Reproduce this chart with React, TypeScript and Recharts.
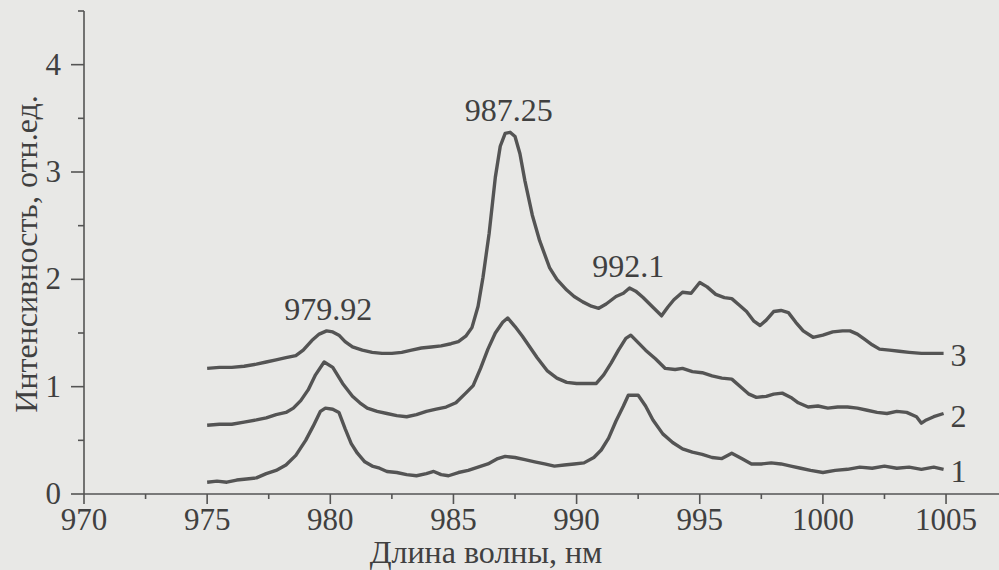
import React from 'react';
import { LineChart, Line, XAxis, YAxis, ReferenceDot } from 'recharts';

// Spectrum 1 (bottom)
const wl1 = [
  975.0, 975.4, 975.8, 976.2, 976.6, 977.0, 977.4, 977.8, 978.2, 978.6, 979.0, 979.3, 979.6, 979.8,
  980.1, 980.35, 980.6, 980.85, 981.1, 981.4, 981.7, 982.0, 982.3, 982.7, 983.1, 983.5, 983.9, 984.2,
  984.5, 984.8, 985.2, 985.6, 986.0, 986.4, 986.8, 987.1, 987.5, 987.9, 988.3, 988.7, 989.1, 989.5,
  989.9, 990.3, 990.7, 991.0, 991.3, 991.6, 991.9, 992.1, 992.5, 992.8, 993.1, 993.5, 993.9, 994.3,
  994.7, 995.1, 995.5, 995.9, 996.3, 996.7, 997.1, 997.5, 997.9, 998.3, 998.7, 999.1, 999.5, 1000.0,
  1000.5, 1001.0, 1001.5, 1002.0, 1002.5, 1003.0, 1003.5, 1004.0, 1004.5, 1004.9,
];
const int1 = [
  0.11, 0.12, 0.11, 0.13, 0.14, 0.15, 0.19, 0.22, 0.27, 0.36, 0.5, 0.63, 0.77, 0.8,
  0.79, 0.76, 0.61, 0.47, 0.38, 0.3, 0.26, 0.24, 0.21, 0.2, 0.18, 0.17, 0.19, 0.21,
  0.18, 0.17, 0.2, 0.22, 0.25, 0.28, 0.33, 0.35, 0.34, 0.32, 0.3, 0.28, 0.26, 0.27,
  0.28, 0.29, 0.34, 0.41, 0.52, 0.68, 0.82, 0.92, 0.92, 0.82, 0.69, 0.56, 0.48, 0.42,
  0.39, 0.37, 0.34, 0.33, 0.38, 0.33, 0.28, 0.28, 0.29, 0.28, 0.26, 0.24, 0.22, 0.2,
  0.22, 0.23, 0.25, 0.24, 0.26, 0.24, 0.25, 0.23, 0.25, 0.23,
];

// Spectrum 2 (middle)
const wl2 = [
  975.0, 975.5, 976.0, 976.5, 977.0, 977.4, 977.8, 978.2, 978.5, 978.8, 979.1, 979.4, 979.75, 980.1,
  980.5, 980.9, 981.2, 981.5, 981.9, 982.3, 982.7, 983.1, 983.5, 983.9, 984.3, 984.7, 985.1, 985.5,
  985.8, 986.1, 986.4, 986.7, 987.0, 987.2, 987.5, 987.8, 988.1, 988.4, 988.8, 989.2, 989.6, 990.0,
  990.4, 990.8, 991.1, 991.4, 991.7, 992.0, 992.2, 992.5, 992.8, 993.2, 993.6, 994.0, 994.3, 994.7,
  995.1, 995.5, 995.9, 996.3, 996.7, 997.0, 997.3, 997.7, 998.0, 998.35, 998.7, 999.0, 999.4, 999.8,
  1000.2, 1000.6, 1001.0, 1001.4, 1001.8, 1002.2, 1002.6, 1003.0, 1003.4, 1003.8, 1004.0, 1004.2,
  1004.5, 1004.9,
];
const int2 = [
  0.64, 0.65, 0.65, 0.67, 0.69, 0.71, 0.74, 0.76, 0.8, 0.87, 0.97, 1.11, 1.23, 1.18,
  1.03, 0.91, 0.85, 0.8, 0.77, 0.75, 0.73, 0.72, 0.74, 0.77, 0.79, 0.81, 0.85, 0.94,
  1.01, 1.17, 1.35, 1.5, 1.6, 1.64, 1.56, 1.47, 1.37, 1.27, 1.15, 1.08, 1.04, 1.03,
  1.03, 1.03, 1.11, 1.22, 1.34, 1.45, 1.48, 1.41, 1.34, 1.26, 1.17, 1.16, 1.17, 1.14,
  1.13, 1.1, 1.08, 1.07, 0.99, 0.93, 0.9, 0.91, 0.93, 0.94, 0.9, 0.85, 0.81, 0.82,
  0.8, 0.81, 0.81, 0.8, 0.78, 0.76, 0.75, 0.77, 0.76, 0.72, 0.66, 0.69,
  0.72, 0.75,
];

// Spectrum 3 (top)
const wl3 = [
  975.0, 975.5, 976.0, 976.5, 977.0, 977.4, 977.8, 978.2, 978.6, 978.9, 979.25, 979.55, 979.85, 980.1,
  980.35, 980.6, 980.9, 981.3, 981.7, 982.1, 982.5, 982.9, 983.3, 983.7, 984.1, 984.5, 984.9, 985.2,
  985.5, 985.75, 986.0, 986.2, 986.45, 986.7, 986.9, 987.1, 987.3, 987.5, 987.7, 987.9, 988.2, 988.5,
  988.9, 989.2, 989.6, 989.9, 990.25, 990.6, 990.9, 991.2, 991.6, 991.9, 992.15, 992.4, 992.7, 993.1,
  993.45, 993.7, 993.95, 994.3, 994.65, 995.0, 995.3, 995.65, 996.0, 996.3, 996.6, 996.9, 997.2, 997.45,
  997.7, 998.0, 998.3, 998.6, 998.9, 999.2, 999.6, 1000.0, 1000.4, 1000.8, 1001.1, 1001.4, 1001.7, 1002.0,
  1002.3, 1002.7, 1003.1, 1003.5, 1004.0, 1004.5, 1004.9,
];
const int3 = [
  1.17, 1.18, 1.18, 1.19, 1.21, 1.23, 1.25, 1.27, 1.29, 1.34, 1.43, 1.49, 1.52, 1.51,
  1.48, 1.42, 1.37, 1.34, 1.32, 1.31, 1.31, 1.32, 1.34, 1.36, 1.37, 1.38, 1.4, 1.42,
  1.47, 1.55, 1.75, 2.02, 2.43, 2.95, 3.24, 3.36, 3.37, 3.33, 3.17, 2.92, 2.6, 2.36,
  2.11, 2.0, 1.9, 1.84, 1.79, 1.75, 1.73, 1.77, 1.84, 1.87, 1.92, 1.89, 1.83, 1.74,
  1.66, 1.74, 1.81, 1.88, 1.87, 1.97, 1.93, 1.86, 1.83, 1.82, 1.76, 1.7, 1.61, 1.57,
  1.62, 1.7, 1.71, 1.69, 1.6, 1.52, 1.46, 1.48, 1.51, 1.52, 1.52, 1.49, 1.44, 1.39,
  1.35, 1.34, 1.33, 1.32, 1.31, 1.31, 1.31,
];

const curveNames = ['1', '2', '3'];
const peakWavelengths = [979.92, 987.25, 992.1];
const peakTexts = ['979.92', '987.25', '992.1'];

const xTicks = [970, 972.5, 975, 977.5, 980, 982.5, 985, 987.5, 990, 992.5, 995, 997.5, 1000, 1002.5, 1005];
const yTicks = [0, 0.5, 1, 1.5, 2, 2.5, 3, 3.5, 4, 4.5];

const series = [
  { name: curveNames[0], data: wl1.map((x, i) => ({ x, y: int1[i] })) },
  { name: curveNames[1], data: wl2.map((x, i) => ({ x, y: int2[i] })) },
  { name: curveNames[2], data: wl3.map((x, i) => ({ x, y: int3[i] })) },
];

// value of the top spectrum at the point closest to a wavelength
const nearestTop = (w: number) => {
  let best = 0;
  for (let i = 1; i < wl3.length; i++) {
    if (Math.abs(wl3[i] - w) < Math.abs(wl3[best] - w)) best = i;
  }
  return int3[best];
};

const INK = '#404040';
const LINE = '#545454';
const FONT = 'Liberation Serif';
const FS_TICK = 31;
const FS_TEXT = 32;

const XTick = (props: any) => {
  const { x, y, payload } = props;
  const v = payload.value as number;
  const major = v % 5 === 0;
  return (
    <g>
      <line x1={x} x2={x} y1={y} y2={y + (major ? 10 : 5)} stroke={LINE} strokeWidth={1.6} />
      {major && (
        <text x={x} y={y + 36} textAnchor="middle" fill={INK} fontSize={FS_TICK} fontFamily={FONT}>
          {v}
        </text>
      )}
    </g>
  );
};

const YTick = (props: any) => {
  const { x, y, payload } = props;
  const v = payload.value as number;
  const major = Number.isInteger(v);
  return (
    <g>
      <line x1={x - (major ? 13 : 6)} x2={x} y1={y} y2={y} stroke={LINE} strokeWidth={1.6} />
      {major && (
        <text x={x - 23} y={y + 10} textAnchor="end" fill={INK} fontSize={FS_TICK} fontFamily={FONT}>
          {v}
        </text>
      )}
    </g>
  );
};

const XTitle = () => (
  <text x={486} y={563} textAnchor="middle" fill={INK} fontSize={FS_TEXT} fontFamily={FONT}>
    Длина волны, нм
  </text>
);

const YTitle = () => (
  <text
    x={0}
    y={0}
    transform="translate(37 254) rotate(-90)"
    textAnchor="middle"
    fill={INK}
    fontSize={FS_TEXT}
    fontFamily={FONT}
  >
    Интенсивность, отн.ед.
  </text>
);

const PeakLabel = (props: any) => {
  const { viewBox, value } = props;
  const cx = viewBox.x + viewBox.width / 2;
  const cy = viewBox.y;
  return (
    <text x={cx} y={cy - 11} textAnchor="middle" fill={INK} fontSize={FS_TEXT} fontFamily={FONT}>
      {value}
    </text>
  );
};

const CurveLabel = (props: any) => {
  const { viewBox, value } = props;
  const x = viewBox.x + viewBox.width;
  const y = viewBox.y + viewBox.height / 2;
  return (
    <text x={x + 7} y={y + 13} textAnchor="start" fill={INK} fontSize={FS_TEXT} fontFamily={FONT}>
      {value}
    </text>
  );
};

export default function App() {
  return (
    <div
      style={{
        position: 'absolute',
        left: 0,
        top: 0,
        width: 999,
        height: 570,
        background: '#e8e8e6',
      }}
    >
      <LineChart width={999} height={570} margin={{ top: 11, right: 0, left: 0, bottom: 0 }}>
        <XAxis
          dataKey="x"
          type="number"
          domain={[970, 1007.15]}
          ticks={xTicks}
          interval={0}
          allowDataOverflow
          height={76}
          stroke={LINE}
          strokeWidth={1.6}
          tickLine={false}
          tickSize={0}
          tickMargin={0}
          tick={<XTick />}
          label={{ content: () => <XTitle /> }}
        />
        <YAxis
          type="number"
          domain={[0, 4.5]}
          ticks={yTicks}
          interval={0}
          allowDataOverflow
          width={84}
          stroke={LINE}
          strokeWidth={1.6}
          tickLine={false}
          tickSize={0}
          tickMargin={0}
          tick={<YTick />}
          label={{ content: () => <YTitle /> }}
        />
        {series.map((s) => (
          <Line
            key={s.name}
            data={s.data}
            dataKey="y"
            type="linear"
            stroke={LINE}
            strokeWidth={3.4}
            strokeLinejoin="round"
            dot={false}
            activeDot={false}
            isAnimationActive={false}
          />
        ))}
        {peakWavelengths.map((w, i) => (
          <ReferenceDot
            key={peakTexts[i]}
            x={w}
            y={nearestTop(w)}
            r={0}
            fill="none"
            stroke="none"
            label={{ value: peakTexts[i], content: (p: any) => <PeakLabel {...p} /> }}
          />
        ))}
        {series.map((s) => {
          const last = s.data[s.data.length - 1];
          return (
            <ReferenceDot
              key={'n' + s.name}
              x={last.x}
              y={last.y}
              r={0}
              fill="none"
              stroke="none"
              label={{ value: s.name, content: (p: any) => <CurveLabel {...p} /> }}
            />
          );
        })}
      </LineChart>
    </div>
  );
}
